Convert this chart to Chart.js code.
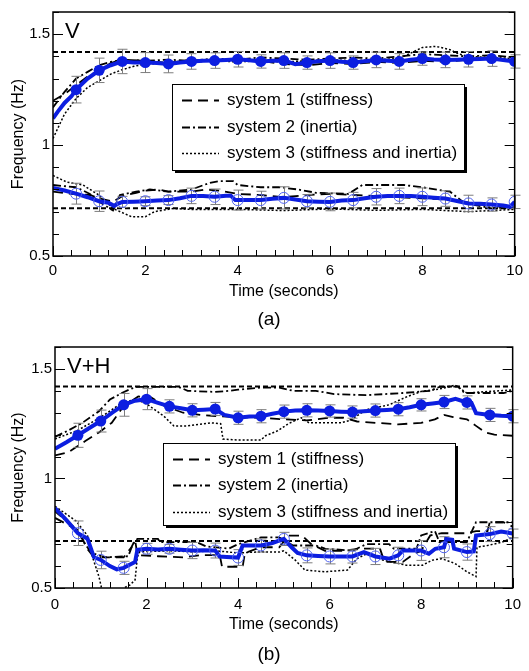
<!DOCTYPE html>
<html>
<head>
<meta charset="utf-8">
<script src="https://cdn.jsdelivr.net/npm/chart.js@4.4.1/dist/chart.umd.min.js"></script>
<style>
  body { margin: 0; background: #fff; }
  #wrap { position: relative; width: 529px; height: 671px; }
  .panel { position: absolute; left: 0; width: 529px; }
</style>
</head>
<body>
<div id="wrap">
  <div class="panel" style="top:0;height:335px"><canvas id="chartA"></canvas></div>
  <div class="panel" style="top:335px;height:336px"><canvas id="chartB"></canvas></div>
</div>
<script>
// Frequency vs time, two panels: (a) V and (b) V+H
const legendLabels = ['system 1 (stiffness)', 'system 2 (inertia)', 'system 3 (stiffness and inertia)'];
const refLevels = [1.42, 0.715];

// ---- panel (a) V ----
const aBlueUp = [[0,1.12],[0.1,1.15],[0.25,1.19],[0.4,1.22],[0.5,1.25],[0.75,1.30],[1,1.337],[1.25,1.36],[1.5,1.377],
  [1.75,1.372],[2,1.372],[2.25,1.37],[2.5,1.366],[2.75,1.372],[3,1.377],[3.25,1.38],[3.5,1.381],[3.75,1.384],[4,1.387],
  [4.25,1.382],[4.5,1.377],[4.75,1.38],[5,1.381],[5.25,1.365],[5.5,1.372],[5.75,1.378],[6,1.381],[6.25,1.376],[6.5,1.372],
  [6.75,1.378],[7,1.384],[7.25,1.38],[7.5,1.377],[7.75,1.385],[8,1.39],[8.25,1.386],[8.5,1.384],[8.75,1.385],[9,1.387],
  [9.25,1.388],[9.5,1.39],[9.75,1.384],[10,1.377]];
const aBlueLow = [[0,0.807],[0.25,0.795],[0.5,0.781],[0.75,0.765],[1,0.747],[1.2,0.74],[1.32,0.726],[1.4,0.735],[1.5,0.744],
  [1.75,0.745],[2,0.747],[2.25,0.75],[2.5,0.752],[2.75,0.76],[3,0.771],[3.25,0.77],[3.5,0.767],[3.75,0.772],[3.85,0.772],
  [3.95,0.752],[4,0.752],[4.25,0.752],[4.5,0.752],[4.75,0.758],[5,0.762],[5.25,0.755],[5.5,0.747],[5.75,0.745],[6,0.744],
  [6.25,0.75],[6.5,0.752],[6.75,0.76],[7,0.767],[7.25,0.77],[7.5,0.771],[7.75,0.77],[8,0.767],[8.25,0.763],[8.5,0.759],
  [8.75,0.748],[9,0.737],[9.25,0.735],[9.5,0.732],[9.75,0.728],[9.9,0.722],[10,0.744]];
const aErrUp = [0.06,0.055,0.055,0.045,0.04,0.035,0.035,0.035,0.03,0.035,0.03,0.035,0.03,0.035,0.035,0.03,0.035,0.035,0.035,0.03];
const aErrLow = [0.047,0.046,0.025,0.02,0.02,0.035,0.035,0.045,0.04,0.05,0.03,0.04,0.035,0.037,0.035,0.04,0.035,0.037,0.03,0.03];
const aSys1Up = [[0,1.2],[0.25,1.23],[0.5,1.27],[0.75,1.31],[1,1.335],[1.25,1.37],[1.5,1.385],[2,1.38],[2.5,1.37],[3,1.385],
  [3.5,1.38],[4,1.39],[4.5,1.38],[5,1.365],[5.5,1.36],[6,1.37],[6.5,1.365],[7,1.375],[7.5,1.37],[8,1.38],[8.5,1.375],
  [9,1.385],[9.5,1.39],[10,1.38]];
const aSys2Up = [[0,1.17],[0.25,1.24],[0.5,1.30],[0.75,1.33],[1,1.36],[1.25,1.375],[1.5,1.385],[2,1.38],[2.5,1.385],[3,1.38],
  [3.5,1.39],[4,1.385],[4.5,1.395],[5,1.39],[5.5,1.385],[6,1.39],[6.5,1.395],[7,1.39],[7.5,1.4],[8,1.41],[8.5,1.405],
  [9,1.4],[9.5,1.405],[10,1.395]];
const aSys3Up = [[0,1.03],[0.25,1.14],[0.5,1.21],[0.75,1.26],[1,1.29],[1.25,1.32],[1.5,1.34],[1.75,1.355],[2,1.365],[2.5,1.37],
  [3,1.375],[3.5,1.38],[4,1.375],[4.5,1.38],[5,1.375],[5.5,1.38],[6,1.385],[6.5,1.38],[7,1.385],[7.5,1.39],[7.8,1.42],
  [8,1.44],[8.3,1.445],[8.6,1.43],[8.8,1.41],[9,1.4],[9.5,1.395],[10,1.39]];
const aSys1Low = [[0,0.79],[0.5,0.778],[0.8,0.775],[1,0.76],[1.3,0.745],[1.5,0.77],[1.8,0.785],[2,0.795],[2.3,0.8],[2.5,0.79],
  [3,0.79],[3.3,0.8],[3.6,0.795],[4,0.78],[4.5,0.775],[5,0.765],[5.5,0.775],[6,0.78],[6.5,0.775],[7,0.77],[7.5,0.765],
  [8,0.76],[8.5,0.755],[9,0.74],[9.5,0.725],[10,0.72]];
const aSys2Low = [[0,0.82],[0.5,0.81],[0.8,0.78],[1,0.745],[1.3,0.705],[1.45,0.775],[1.8,0.79],[2.1,0.8],[2.5,0.79],[3,0.8],
  [3.4,0.83],[3.6,0.838],[3.9,0.838],[4,0.82],[4.5,0.81],[4.9,0.81],[5.3,0.8],[5.7,0.785],[6.4,0.78],[6.7,0.82],[7.6,0.82],
  [8,0.81],[8.6,0.79],[8.9,0.74],[9.5,0.715],[10,0.72]];
const aSys3Low = [[0,0.863],[0.3,0.833],[0.65,0.82],[1,0.774],[1.3,0.714],[1.7,0.677],[2,0.677],[2.2,0.7],[2.6,0.714],[3,0.71],
  [4,0.71],[5,0.705],[6,0.712],[7,0.706],[8,0.71],[8.5,0.705],[9,0.7],[9.5,0.705],[10,0.71]];

// ---- panel (b) V+H ----
const bBlueUp = [[0,1.135],[0.25,1.165],[0.5,1.197],[0.75,1.23],[1,1.262],[1.25,1.3],[1.5,1.336],[1.75,1.355],[2,1.362],
  [2.25,1.345],[2.5,1.329],[2.75,1.32],[3,1.311],[3.25,1.314],[3.5,1.317],[3.7,1.29],[4,1.277],[4.25,1.283],[4.5,1.284],
  [4.75,1.295],[5,1.305],[5.25,1.31],[5.5,1.311],[5.75,1.31],[6,1.308],[6.25,1.305],[6.5,1.303],[6.75,1.307],[7,1.31],
  [7.25,1.313],[7.5,1.316],[7.75,1.325],[8,1.336],[8.25,1.342],[8.5,1.349],[8.75,1.363],[9,1.347],[9.1,1.345],[9.2,1.298],
  [9.5,1.29],[9.75,1.286],[10,1.284]];
const bBlueLow = [[0,0.865],[0.25,0.81],[0.5,0.75],[0.71,0.725],[0.85,0.641],[1,0.628],[1.2,0.6],[1.35,0.585],[1.5,0.592],
  [1.75,0.619],[1.8,0.674],[2,0.679],[2.25,0.676],[2.5,0.679],[2.75,0.675],[3,0.671],[3.25,0.672],[3.5,0.671],[3.6,0.644],
  [3.75,0.642],[4,0.639],[4.1,0.694],[4.25,0.694],[4.5,0.694],[4.75,0.705],[5,0.724],[5.17,0.686],[5.3,0.66],[5.5,0.649],
  [5.75,0.646],[6,0.644],[6.25,0.644],[6.5,0.644],[6.75,0.664],[7,0.644],[7.31,0.634],[7.5,0.649],[7.6,0.671],[8,0.671],
  [8.17,0.656],[8.31,0.679],[8.5,0.686],[8.55,0.724],[8.68,0.72],[8.72,0.68],[9,0.664],[9.15,0.667],[9.2,0.739],[9.5,0.746],
  [9.75,0.758],[10,0.749]];
const bErrUp = [0.055,0.05,0.052,0.048,0.03,0.03,0.03,0.03,0.03,0.03,0.03,0.028,0.028,0.03,0.03,0.028,0.03,0.03,0.03,0.03];
const bErrLow = [0.056,0.04,0.03,0.025,0.02,0.037,0.034,0.036,0.03,0.03,0.034,0.034,0.03,0.037,0.037,0.045,0.048,0.037,0.034,0.02];
const bSys1Up = [[0,1.105],[0.3,1.12],[0.67,1.172],[0.96,1.21],[1.24,1.254],[1.5,1.33],[1.82,1.374],[2.1,1.37],[2.4,1.33],
  [2.8,1.3],[3.2,1.29],[3.5,1.285],[4,1.28],[4.5,1.277],[5,1.27],[5.5,1.265],[6,1.277],[6.3,1.277],[6.6,1.26],[7,1.254],
  [7.5,1.247],[8,1.254],[8.3,1.27],[8.5,1.29],[8.7,1.28],[9,1.27],[9.2,1.24],[9.4,1.21],[9.6,1.2],[10,1.195]];
const bSys2Up = [[0,1.19],[0.3,1.22],[0.6,1.254],[0.96,1.307],[1.2,1.36],[1.46,1.39],[1.67,1.41],[1.8,1.418],[2.7,1.418],
  [2.9,1.4],[3.5,1.395],[3.8,1.4],[4,1.405],[4.5,1.415],[4.9,1.415],[5.2,1.4],[5.7,1.4],[6.1,1.385],[6.8,1.38],[7.2,1.385],
  [7.6,1.39],[8.2,1.4],[8.4,1.418],[8.8,1.42],[8.95,1.39],[9.1,1.39],[9.8,1.39],[10,1.4]];
const bSys3Up = [[0,1.18],[0.5,1.22],[1,1.28],[1.5,1.35],[1.8,1.36],[2.03,1.336],[2.38,1.284],[2.6,1.239],[2.9,1.24],
  [3.4,1.254],[3.62,1.25],[3.67,1.18],[4,1.175],[4.5,1.175],[4.6,1.195],[4.87,1.218],[5.1,1.25],[5.38,1.277],[5.55,1.254],
  [6.25,1.254],[6.45,1.265],[6.8,1.314],[7.3,1.336],[7.7,1.374],[8,1.397],[8.45,1.41],[8.74,1.426],[9,1.39],[9.45,1.397],
  [10,1.404]];
const bSys1Low = [[0,0.82],[0.53,0.761],[0.68,0.686],[0.85,0.64],[1.1,0.64],[1.5,0.64],[1.67,0.686],[1.75,0.72],[1.8,0.65],
  [2.25,0.645],[2.8,0.64],[3.2,0.65],[3.6,0.65],[3.65,0.597],[4.1,0.597],[4.15,0.66],[4.5,0.686],[4.9,0.686],[5.1,0.739],
  [5.4,0.739],[5.6,0.7],[5.9,0.67],[6.3,0.67],[6.7,0.68],[7.1,0.68],[7.2,0.619],[7.6,0.619],[7.8,0.65],[8,0.67],[8.2,0.74],
  [8.45,0.75],[9,0.75],[9.2,0.76],[9.45,0.76],[9.5,0.8],[9.8,0.8],[10,0.78]];
const bSys2Low = [[0,0.85],[0.46,0.77],[0.68,0.694],[0.8,0.66],[1.1,0.64],[1.6,0.645],[1.7,0.7],[1.8,0.724],[2.25,0.724],
  [2.3,0.709],[3.1,0.709],[3.3,0.69],[3.8,0.68],[4,0.7],[4.5,0.731],[4.9,0.731],[5.2,0.694],[5.7,0.694],[5.9,0.68],[6.5,0.67],
  [6.8,0.7],[7.3,0.7],[7.4,0.68],[7.9,0.68],[8,0.74],[8.3,0.76],[8.4,0.71],[9,0.71],[9.2,0.8],[10,0.8]];
const bSys3Low = [[0,0.873],[0.46,0.806],[0.71,0.739],[0.82,0.641],[0.96,0.552],[1.05,0.47],[1.45,0.47],[1.5,0.5],[1.64,0.514],
  [1.75,0.537],[1.8,0.641],[1.85,0.665],[2.5,0.67],[3,0.665],[3.5,0.67],[4,0.66],[4.5,0.665],[4.9,0.664],[5,0.67],[5.25,0.627],
  [5.46,0.582],[5.89,0.574],[6.39,0.582],[6.6,0.634],[6.85,0.66],[7.17,0.627],[7.67,0.604],[8.03,0.604],[8.24,0.627],
  [8.45,0.634],[8.74,0.612],[9,0.574],[9.2,0.552],[9.22,0.686],[9.45,0.694],[9.77,0.709],[10,0.731]];

const FONT = "'Liberation Sans', Arial, Helvetica, sans-serif";
const BLUE = '#0c1ee0';
const OPEN_BLUE = '#4f62f0';
const DASH1 = [10, 6];
const DASH2 = [8, 3, 2, 3];
const DASH3 = [2, 2];

function pts(pairs) { return pairs.map(p => ({ x: p[0], y: p[1] })); }
function isMult(v, m) { return Math.abs(v / m - Math.round(v / m)) < 1e-6; }
function isMarker(t) { return t > 0 && isMult(t, 0.5); }

function makePanel(id, p) {
  const blackLine = (label, data, dash, w) => ({
    label, data: pts(data), borderColor: '#000', borderWidth: w, borderDash: dash,
    pointRadius: 0, fill: false, tension: 0
  });
  const refLine = v => ({
    label: '', data: [{ x: 0, y: v }, { x: 10, y: v }], borderColor: '#000', borderWidth: 2,
    borderDash: [5, 3], pointRadius: 0, fill: false
  });
  const datasets = [
    { label: 'upper', data: pts(p.blueUp), borderColor: BLUE, borderWidth: 4,
      pointRadius: c => (c.raw && isMarker(c.raw.x)) ? 5.5 : 0,
      pointBackgroundColor: BLUE, pointBorderColor: BLUE, pointBorderWidth: 0 },
    { label: 'lower', data: pts(p.blueLow), borderColor: BLUE, borderWidth: 4,
      pointRadius: c => (c.raw && isMarker(c.raw.x)) ? 5.5 : 0,
      pointBackgroundColor: 'rgba(0,0,0,0)', pointBorderColor: OPEN_BLUE, pointBorderWidth: 1 },
    blackLine(legendLabels[0], p.s1Up, DASH1, 1.8),
    blackLine(legendLabels[1], p.s2Up, DASH2, 1.8),
    blackLine(legendLabels[2], p.s3Up, DASH3, 1.5),
    blackLine('', p.s1Low, DASH1, 1.8),
    blackLine('', p.s2Low, DASH2, 1.8),
    blackLine('', p.s3Low, DASH3, 1.5),
    refLine(refLevels[0]),
    refLine(refLevels[1])
  ];
  const errs = { 0: p.errUp, 1: p.errLow };

  // grey error bars at the marker points, drawn just under the blue curves
  const errorBars = {
    id: 'errorBars',
    beforeDatasetDraw(chart, args) {
      const err = errs[args.index];
      if (!err) return;
      const { ctx, scales: { x, y } } = chart;
      const ds = chart.data.datasets[args.index];
      ctx.save();
      ctx.strokeStyle = '#7d7d7d';
      ctx.lineWidth = 1;
      ds.data.forEach(d => {
        if (!isMarker(d.x)) return;
        const e = err[Math.round(d.x * 2) - 1];
        const px = Math.round(x.getPixelForValue(d.x)) + 0.5;
        const y1 = y.getPixelForValue(d.y + e), y2 = y.getPixelForValue(d.y - e);
        ctx.beginPath();
        ctx.moveTo(px, y1); ctx.lineTo(px, y2);
        ctx.moveTo(px - 5, y1); ctx.lineTo(px + 5, y1);
        ctx.moveTo(px - 5, y2); ctx.lineTo(px + 5, y2);
        ctx.stroke();
      });
      ctx.restore();
    }
  };

  // frame, inward ticks, legend box, tag and caption
  const decor = {
    id: 'decor',
    afterDraw(chart) {
      const { ctx, chartArea: a, scales: { x, y } } = chart;
      ctx.save();
      ctx.strokeStyle = '#000';
      ctx.lineWidth = 1;
      x.ticks.forEach(t => {
        const px = Math.round(x.getPixelForValue(t.value)) + 0.5;
        const len = isMult(t.value, 2) ? 10 : 6;
        ctx.beginPath(); ctx.moveTo(px, a.bottom); ctx.lineTo(px, a.bottom - len); ctx.stroke();
      });
      y.ticks.forEach(t => {
        const py = Math.round(y.getPixelForValue(t.value)) + 0.5;
        const len = isMult(t.value, 0.5) ? 10 : 6;
        ctx.beginPath();
        ctx.moveTo(a.left, py); ctx.lineTo(a.left + len, py);
        ctx.moveTo(a.right, py); ctx.lineTo(a.right - len, py);
        ctx.stroke();
      });
      ctx.lineWidth = 1.5;
      ctx.strokeRect(a.left, a.top, a.right - a.left, a.bottom - a.top);

      const L = p.legend;
      ctx.fillStyle = '#000';
      ctx.fillRect(L.x + 3, L.y + 3, L.w, L.h);
      ctx.fillStyle = '#fff';
      ctx.fillRect(L.x, L.y, L.w, L.h);
      ctx.lineWidth = 1;
      ctx.strokeRect(L.x + 0.5, L.y + 0.5, L.w, L.h);
      ctx.font = '17px ' + FONT;
      ctx.textBaseline = 'middle';
      ctx.textAlign = 'left';
      for (let i = 0; i < 3; i++) {
        const ds = chart.data.datasets[2 + i];
        const ry = Math.round(L.y + L.row0 + i * L.gap) + 0.5;
        ctx.save();
        ctx.setLineDash(ds.borderDash);
        ctx.lineWidth = ds.borderWidth;
        ctx.beginPath(); ctx.moveTo(L.x + 10, ry); ctx.lineTo(L.x + 47, ry); ctx.stroke();
        ctx.restore();
        ctx.fillStyle = '#000';
        ctx.fillText(ds.label, L.x + 55, ry);
      }

      ctx.textBaseline = 'alphabetic';
      ctx.font = '22px ' + FONT;
      ctx.fillText(p.tag, a.left + 12, a.top + 26);
      ctx.font = '19px ' + FONT;
      ctx.textAlign = 'center';
      ctx.fillText(p.caption, 269, p.captionY);
      ctx.restore();
    }
  };

  return new Chart(document.getElementById(id), {
    type: 'line',
    data: { datasets },
    plugins: [errorBars, decor],
    options: {
      responsive: true, maintainAspectRatio: false, animation: false,
      layout: { padding: { left: 0, right: p.padRight, top: p.padTop, bottom: 0 } },
      plugins: { legend: { display: false }, tooltip: { enabled: false } },
      scales: {
        x: {
          type: 'linear', min: 0, max: 10,
          grid: { display: false, drawTicks: false }, border: { display: false },
          ticks: {
            stepSize: 0.4, autoSkip: false, maxRotation: 0, padding: p.xTickPad, color: '#000',
            font: { size: 15, family: FONT },
            callback: v => isMult(v, 2) ? String(Math.round(v)) : ''
          },
          title: { display: true, text: 'Time (seconds)', color: '#000', font: { size: 16, family: FONT },
                   padding: { top: 0, bottom: p.xTitlePad } },
          afterFit: s => { s.height = p.xAxisH; }
        },
        y: {
          type: 'linear', min: 0.5, max: 1.6,
          grid: { display: false, drawTicks: false }, border: { display: false },
          ticks: {
            stepSize: 0.1, autoSkip: false, padding: 3, color: '#000',
            font: { size: 15, family: FONT },
            callback: v => isMult(v, 0.5) ? String(Math.round(v * 10) / 10) : ''
          },
          title: { display: true, text: 'Frequency (Hz)', color: '#000', font: { size: 16, family: FONT },
                   padding: { top: 9, bottom: 0 } },
          afterFit: s => { s.width = p.yAxisW; }
        }
      }
    }
  });
}

makePanel('chartA', {
  blueUp: aBlueUp, blueLow: aBlueLow, errUp: aErrUp, errLow: aErrLow,
  s1Up: aSys1Up, s2Up: aSys2Up, s3Up: aSys3Up, s1Low: aSys1Low, s2Low: aSys2Low, s3Low: aSys3Low,
  tag: 'V', caption: '(a)', captionY: 325,
  legend: { x: 172, y: 84, w: 292, h: 86, row0: 16, gap: 26.5 },
  padTop: 7, padRight: 7, yAxisW: 53, xAxisH: 79, xTickPad: 6, xTitlePad: 34
});

makePanel('chartB', {
  blueUp: bBlueUp, blueLow: bBlueLow, errUp: bErrUp, errLow: bErrLow,
  s1Up: bSys1Up, s2Up: bSys2Up, s3Up: bSys3Up, s1Low: bSys1Low, s2Low: bSys2Low, s3Low: bSys3Low,
  tag: 'V+H', caption: '(b)', captionY: 325,
  legend: { x: 163, y: 108, w: 292, h: 82, row0: 16, gap: 26.3 },
  padTop: 8, padRight: 6, yAxisW: 55, xAxisH: 83, xTickPad: 8, xTitlePad: 37
});
</script>
</body>
</html>
